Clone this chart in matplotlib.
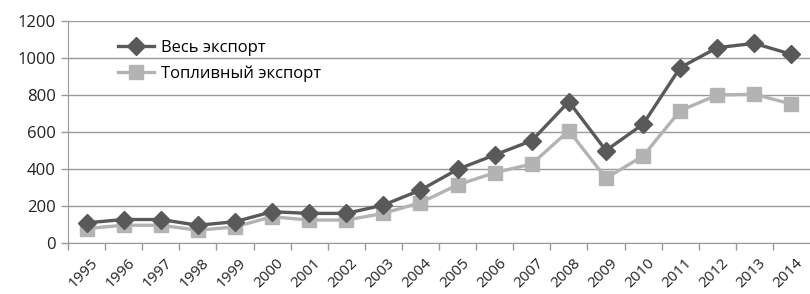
import matplotlib
matplotlib.use("Agg")
import matplotlib.pyplot as plt
import matplotlib.transforms as mtransforms
from matplotlib.ticker import FixedLocator
import numpy as np

years = [str(y) for y in range(1995, 2015)]
total_export = [109, 127, 127, 96, 115, 169, 160, 160, 205, 286, 398, 476, 553, 764, 500, 642, 948, 1056, 1079, 1020]
fuel_export = [78, 96, 96, 69, 87, 142, 124, 124, 160, 218, 314, 380, 427, 607, 350, 470, 715, 800, 804, 751]
y_ticks = [0, 200, 400, 600, 800, 1000, 1200]

plt.rcParams['font.family'] = ['Open Sans', 'DejaVu Sans']

fig = plt.figure(figsize=(8.1, 2.94), dpi=100)
ax = fig.add_axes([68/810, 1 - 243/294, 742/810, 222/294])

x = np.arange(len(years))
ax.plot(x, total_export, color='#595959', lw=2.4, marker='D', ms=9, label='Весь экспорт', zorder=4)
ax.plot(x, fuel_export, color='#b3b3b3', lw=2.4, marker='s', ms=9.5, label='Топливный экспорт', zorder=3)

ax.set_xlim(-0.5, len(years) - 0.5)
ax.set_ylim(0, 1200)
ax.set_yticks(y_ticks)
ax.set_yticklabels([str(v) for v in y_ticks], fontsize=12, color='#222222')
ax.yaxis.grid(True, color='#999999', lw=1)
ax.set_axisbelow(True)

ax.set_xticks(x)
ax.set_xticklabels(years, rotation=45, ha='right', va='top', rotation_mode='anchor', fontsize=11, color='#222222')
ax.tick_params(axis='x', which='major', length=0, pad=9)
offset = mtransforms.ScaledTranslation(4/100, 0, fig.dpi_scale_trans)
for lbl in ax.get_xticklabels():
    lbl.set_transform(lbl.get_transform() + offset)
ax.xaxis.set_minor_locator(FixedLocator(np.arange(-0.5, len(years) - 0.5, 1)))
ax.tick_params(axis='x', which='minor', length=5, color='#999999', width=1)
ax.tick_params(axis='y', length=5, color='#999999', width=1, pad=4)

for s in ['top', 'right']:
    ax.spines[s].set_visible(False)
ax.spines['left'].set_color('#999999')
ax.spines['bottom'].set_color('#999999')

leg = ax.legend(loc='upper left', bbox_to_anchor=(0.067, 0.915), frameon=False, fontsize=12,
                handlelength=2.2, handletextpad=0.4, labelspacing=0.55, borderaxespad=0,
                borderpad=0)

fig.savefig('out.png', dpi=100)
